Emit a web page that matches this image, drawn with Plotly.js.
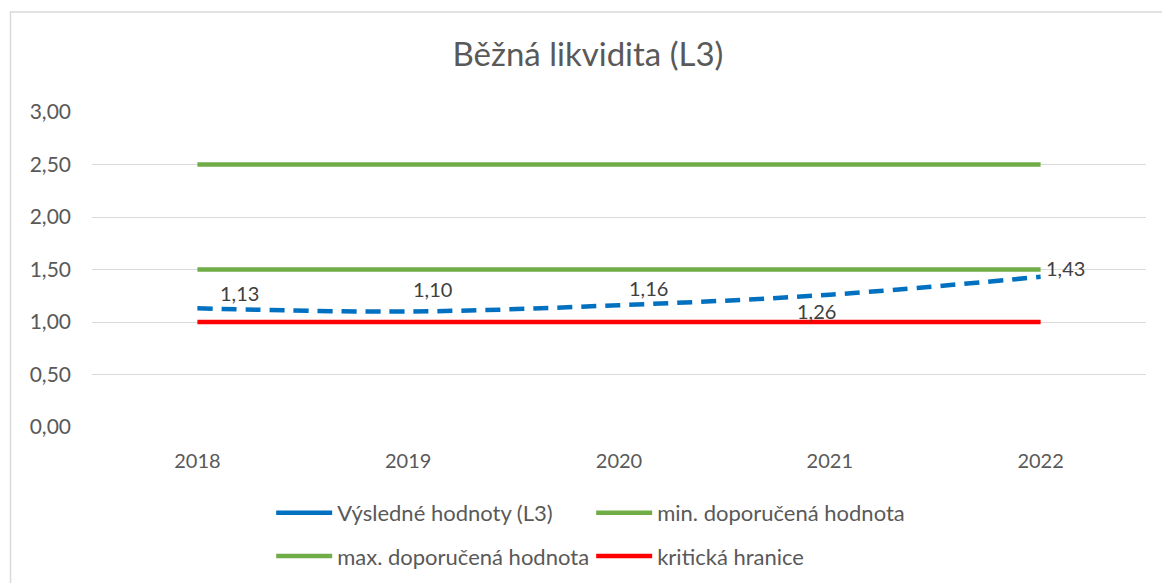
<!DOCTYPE html>
<html>
<head>
<meta charset="utf-8">
<script src="https://cdn.plot.ly/plotly-3.0.1.min.js"></script>
<style>html,body{margin:0;padding:0;background:#fff;}</style>
</head>
<body>
<div id="chart" style="width:1162px;height:583px;"></div>
<script>
const years = ["2018", "2019", "2020", "2021", "2022"];
const vysledne = [1.13, 1.10, 1.16, 1.26, 1.43];
const minDop = [1.5, 1.5, 1.5, 1.5, 1.5];
const maxDop = [2.5, 2.5, 2.5, 2.5, 2.5];
const kriticka = [1.0, 1.0, 1.0, 1.0, 1.0];
const labels = ["1,13", "1,10", "1,16", "1,26", "1,43"];
const yTicks = [0, 0.5, 1, 1.5, 2, 2.5, 3];
const yTickText = ["0,00", "0,50", "1,00", "1,50", "2,00", "2,50", "3,00"];
// label offsets (px) relative to each point
const labelDx = [42, 24, 29, -13, 25];
const labelDy = [15, 23, 17, -16, 9];

const FONT = "Lato, 'Open Sans', sans-serif";
const GREY = "#595959";

const traces = [
  {x: years, y: vysledne, name: "Výsledné hodnoty (L3)", mode: "lines", showlegend: false,
   line: {color: "#0070C0", width: 4.5, dash: "15px,9px", shape: "spline"}},
  {x: [null], y: [null], name: "Výsledné hodnoty (L3)", mode: "lines",
   line: {color: "#0070C0", width: 4.5}, legend: "legend"},
  {x: years, y: minDop, name: "min. doporučená hodnota", mode: "lines",
   line: {color: "#70AD47", width: 4.5}, legend: "legend"},
  {x: years, y: maxDop, name: "max. doporučená hodnota", mode: "lines",
   line: {color: "#70AD47", width: 4.5}, legend: "legend2"},
  {x: years, y: kriticka, name: "kritická hranice", mode: "lines",
   line: {color: "#FF0000", width: 4.5}, legend: "legend2"}
];

const annotations = years.map((yr, i) => ({
  x: i, y: vysledne[i], xref: "x", yref: "y", text: labels[i], showarrow: false,
  xshift: labelDx[i], yshift: labelDy[i], font: {family: FONT, size: 20, color: "#404040"}
}));

const legendCommon = {
  orientation: "h", xanchor: "left", yanchor: "middle",
  font: {family: FONT, size: 22, color: GREY}, bgcolor: "rgba(0,0,0,0)",
  entrywidth: 249, entrywidthmode: "pixels", traceorder: "normal", itemwidth: 56
};

const layout = {
  width: 1162, height: 583,
  margin: {l: 91.5, r: 15.5, t: 112, b: 156, autoexpand: false},
  paper_bgcolor: "#fff", plot_bgcolor: "#fff",
  title: {text: "Běžná likvidita (L3)", font: {family: FONT, size: 33, color: GREY},
          x: 0.506, xref: "container", xanchor: "center", y: 0.906, yref: "container", yanchor: "middle"},
  xaxis: {type: "category", range: [-0.5, 4.5], showgrid: false, zeroline: false, showline: false, ticks: "",
          tickfont: {family: FONT, size: 20, color: GREY}, ticklabelstandoff: 20, fixedrange: true},
  yaxis: {range: [0, 3], tickvals: yTicks, ticktext: yTickText, showgrid: true, gridcolor: "#D9D9D9",
          gridwidth: 1, zeroline: false, showline: false, ticks: "",
          tickfont: {family: FONT, size: 21, color: GREY}, ticklabelstandoff: 20, fixedrange: true},
  legend: Object.assign({}, legendCommon, {x: 0.17, y: -0.273}),
  legend2: Object.assign({}, legendCommon, {x: 0.17, y: -0.41}),
  showlegend: true,
  annotations: annotations,
  shapes: [{type: "rect", xref: "paper", yref: "paper", x0: -0.0773, x1: 1.2, y0: -0.7, y1: 1.3175,
            line: {color: "#D9D9D9", width: 1.5}, fillcolor: "rgba(0,0,0,0)", layer: "below"}]
};

Plotly.newPlot("chart", traces, layout, {displayModeBar: false, staticPlot: true});
</script>
</body>
</html>
